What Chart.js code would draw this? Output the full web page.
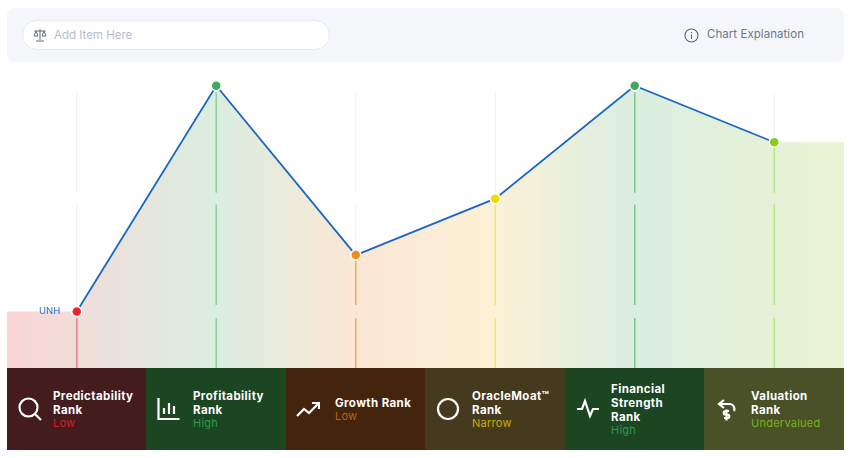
<!DOCTYPE html>
<html>
<head>
<meta charset="utf-8">
<title>UNH rank chart</title>
<script src="https://cdn.jsdelivr.net/npm/chart.js@4"></script>
<style>
    * { box-sizing: border-box; }
    html, body { margin: 0; padding: 0; background: #fff; overflow: hidden; }
    body { width: 855px; height: 458px; position: relative; font-family: Inter, "Open Sans", sans-serif; }

    .toolbar { position: absolute; left: 7px; top: 8px; width: 837px; height: 54px; background: #f4f6fa; border-radius: 8px; }
    .search { position: absolute; left: 15px; top: 12px; width: 308px; height: 30px; background: #fff; border: 1px solid #e7e9ef; border-radius: 15px; }
    .search svg { position: absolute; left: 10px; top: 7px; }
    .search span { position: absolute; left: 31px; top: 7px; font-size: 11.5px; line-height: 15px; color: #b4bccd; }
    .explain { position: absolute; left: 677px; top: 19px; height: 16px; }
    .explain svg { position: absolute; left: 0; top: 1px; }
    .explain span { position: absolute; left: 23px; top: 0; font-size: 11.5px; line-height: 15px; letter-spacing: 0.05px; color: #6e7689; white-space: nowrap; }

    .chart-box { position: absolute; left: 7px; top: 68px; width: 837px; height: 300px; }
    .ticker { position: absolute; left: 39px; top: 305px; font-size: 9.5px; line-height: 12px; color: #2a6fc4; }

    .ranks { position: absolute; left: 7px; top: 368px; width: 837px; height: 82px; }
    .rank { position: absolute; top: 0; height: 82px; display: flex; flex-direction: column; justify-content: center; padding-top: 1px; }
    .rank-icon { position: absolute; top: 0; }
    .rank-name { font-size: 11.5px; font-weight: 700; line-height: 14px; letter-spacing: 0.4px; color: #fff; white-space: pre-line; }
    .rank-value { font-size: 11px; line-height: 13px; letter-spacing: 0.25px; }
</style>
</head>
<body>
<div class="toolbar">
    <div class="search">
        <svg width="14" height="14" viewBox="0 0 14 14" fill="none" stroke="#626a7c" stroke-width="1"><path d="M7 1v11M3 13h8M1.500 3h11M3 3 1 8h4zM11 3 9 8h4z"/></svg>
        <span>Add Item Here</span>
    </div>
    <div class="explain">
        <svg width="15" height="15" viewBox="0 0 15 15" fill="none" stroke="#5c6478" stroke-width="1.100"><circle cx="7.500" cy="7.500" r="6.500"/><path d="M7.500 6.500v4.500M7.500 4v1.200"/></svg>
        <span>Chart Explanation</span>
    </div>
</div>

<div class="chart-box"><canvas id="rankChart"></canvas></div>
<div class="ticker" id="ticker"></div>
<div class="ranks" id="ranks"></div>

<script>
// Chart data
const ticker = 'UNH';
const rankNames = ['Predictability\nRank', 'Profitability\nRank', 'Growth Rank', 'OracleMoat™\nRank', 'Financial\nStrength\nRank', 'Valuation\nRank'];
const rankValues = ['Low', 'High', 'Low', 'Narrow', 'High', 'Undervalued'];
const rankScores = [1, 5, 2, 3, 5, 4];

// Guide lines break around some levels, so they are kept as pieces
const guidePieces = [[0, 0.885], [1.115, 2.895], [3.105, 4.885]];

// Colours
const pointColors = ['#e8262a', '#3fa95e', '#f28a1e', '#f5d800', '#3fa95e', '#84cf12'];
const areaColors = ['#fbd5d5', '#daeee0', '#fbe7d4', '#fbf1d6', '#daeee0', '#ebf3d2'];
const levelColors = ['#ee7f7f', '#8ed0a2', '#eda864', '#f2e37c', '#7cc48f', '#b6e281'];
const cellColors = ['#441c1e', '#1c4522', '#45240e', '#463a1e', '#1c4522', '#4a5028'];
const valueColors = ['#d42025', '#2f9a4c', '#b8660f', '#c9ad00', '#2f9a4c', '#74b510'];

// Icons for the strip under the chart
const rankIcons = [
    '<circle cx="10.500" cy="10.500" r="9"/><path d="M17 17l6 6"/>',
    '<path d="M1.500 1v21h21M7 17v-6M12 17V6M17 17v-8"/>',
    '<path d="M1 19l7-7 5 4 9-9M16 6h7v6"/>',
    '<circle cx="12" cy="12" r="10"/>',
    '<path d="M1 12h5l3-8 5 15 3-7h6"/>',
    '<path d="M10 3 5 7l5 4M5 7h11a5 5 0 0 1 4 7"/><path d="M15 14h-3.500a1.700 1.700 0 0 0 0 3.500h2a1.700 1.700 0 0 1 0 3.500H10M12.500 12.500v11"/>'
];

// Cell left edge, width, text start and icon start, in strip pixels
const cellLefts = [0, 139, 279, 418, 558, 697];
const cellWidths = [139, 140, 139, 140, 139, 140];
const textLefts = [46, 47, 49, 47, 46, 47];
const iconLefts = [11, 11, 10, 11, 11, 10];

// Ranks strip
function renderRanks() {
    const container = document.getElementById('ranks');
    container.innerHTML = rankNames.map((name, index) => `
        <div class="rank" style="left:${cellLefts[index]}px;width:${cellWidths[index]}px;background:${cellColors[index]};padding-left:${textLefts[index]}px">
            <svg class="rank-icon" style="left:${iconLefts[index]}px;top:29px" width="24" height="24" viewBox="0 0 24 24" fill="none" stroke="#fff" stroke-width="2.200">${rankIcons[index]}</svg>
            <div class="rank-name">${name}</div>
            <div class="rank-value" style="color:${valueColors[index]}">${rankValues[index]}</div>
        </div>
    `).join('');
}

// Area fill: first and last colours sit on the plot edges, the rest on their points
function areaGradient(context) {
    const { chart } = context;
    const area = chart.chartArea;
    if (!area) return 'transparent';
    const xScale = chart.scales.x;
    const gradient = chart.ctx.createLinearGradient(area.left, 0, area.right, 0);
    areaColors.forEach((color, index) => {
        let stop = (xScale.getPixelForValue(index) - area.left) / area.width;
        if (index === 0) stop = 0;
        if (index === areaColors.length - 1) stop = 1;
        gradient.addColorStop(stop, color);
    });
    return gradient;
}

// Guide line points, with a null between pieces to break the line
function guidePoints(isColored) {
    const points = [];
    rankScores.forEach((score, index) => {
        guidePieces.forEach(([low, high]) => {
            const from = isColored ? low : Math.max(low, score);
            const to = isColored ? Math.min(high, score) : high;
            if (from >= to) return;
            points.push({ x: index, y: from }, { x: index, y: to }, { x: index, y: null });
        });
    });
    return points;
}

// Chart
function renderChart() {
    const ctx = document.getElementById('rankChart').getContext('2d');
    const linePoints = rankScores.map((score, index) => ({ x: index, y: score }));
    const lastIndex = rankScores.length - 1;

    new Chart(ctx, {
        type: 'line',
        data: {
            datasets: [
                {
                    label: 'Area',
                    data: [{ x: -0.5, y: rankScores[0] }, ...linePoints, { x: lastIndex + 0.5, y: rankScores[lastIndex] }],
                    fill: 'origin',
                    backgroundColor: areaGradient,
                    borderWidth: 0,
                    pointRadius: 0,
                    order: 4
                },
                {
                    label: 'Guides',
                    data: guidePoints(false),
                    borderColor: '#eeeeee',
                    borderWidth: 1,
                    pointRadius: 0,
                    spanGaps: false,
                    order: 3
                },
                {
                    label: 'Levels',
                    data: guidePoints(true),
                    borderWidth: 1.5,
                    pointRadius: 0,
                    spanGaps: false,
                    segment: {
                        borderColor: (context) => levelColors[context.p0.parsed.x]
                    },
                    order: 2
                },
                {
                    label: ticker,
                    data: linePoints,
                    borderColor: '#1a66c4',
                    borderWidth: 1.8,
                    tension: 0,
                    pointRadius: 5,
                    pointBorderWidth: 1.5,
                    pointBorderColor: '#ffffff',
                    pointBackgroundColor: pointColors,
                    clip: false,
                    order: 1
                }
            ]
        },
        options: {
            responsive: true,
            maintainAspectRatio: false,
            animation: false,
            layout: { autoPadding: false },
            parsing: { xAxisKey: 'x', yAxisKey: 'y' },
            plugins: {
                legend: { display: false },
                tooltip: { enabled: false }
            },
            scales: {
                x: { type: 'linear', min: -0.5, max: lastIndex + 0.5, display: false },
                y: { min: 0, max: 5.315, display: false }
            }
        }
    });
}

document.getElementById('ticker').textContent = ticker;
renderRanks();
renderChart();
</script>
</body>
</html>
